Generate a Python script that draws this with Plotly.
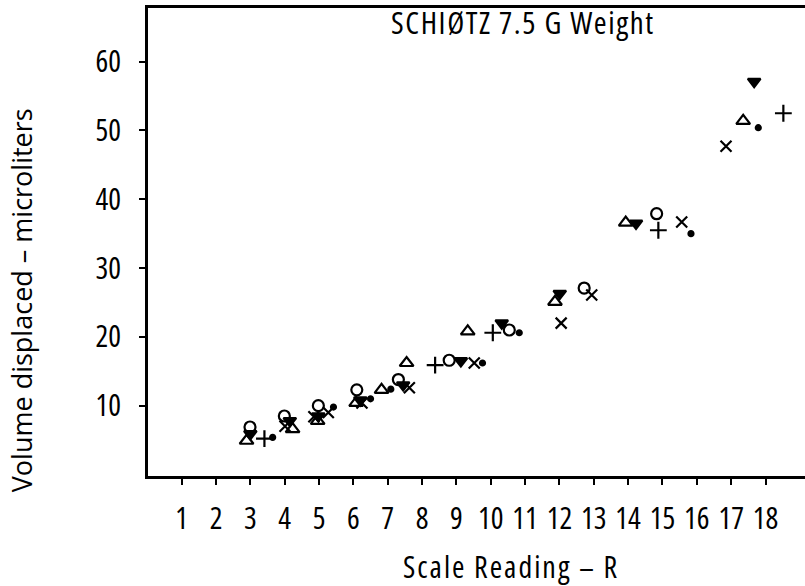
import plotly.graph_objects as go

# Scale reading (R) and volume displaced (microliters) for each marker type
tri_up_x = [2.89, 4.23, 4.96, 6.08, 6.82, 7.55, 9.33, 11.87, 13.93, 17.35]
tri_up_y = [4.9, 6.6, 7.8, 10.4, 12.3, 16.2, 20.8, 25.1, 36.6, 51.4]

tri_dn_x = [3.0, 4.15, 4.98, 6.2, 7.45, 9.13, 10.32, 12.01, 14.23, 17.67]
tri_dn_y = [5.9, 7.8, 8.5, 10.8, 13.0, 16.5, 22.0, 26.3, 36.5, 57.1]

plus_x = [3.41, 8.38, 10.06, 14.88, 18.52]
plus_y = [5.2, 15.9, 20.6, 35.5, 52.5]

cross_x = [4.01, 4.85, 5.27, 6.25, 7.63, 9.52, 12.05, 12.94, 15.56, 16.85]
cross_y = [7.0, 8.4, 9.0, 10.4, 12.6, 16.2, 22.0, 26.1, 36.7, 47.7]

circ_x = [2.99, 3.99, 4.98, 6.10, 7.31, 8.79, 10.54, 12.72, 14.83]
circ_y = [6.9, 8.5, 10.0, 12.3, 13.8, 16.6, 21.0, 27.1, 37.9]

dot_x = [3.65, 5.42, 6.5, 7.09, 9.76, 10.83, 15.83, 17.79]
dot_y = [5.4, 9.8, 11.0, 12.4, 16.2, 20.6, 35.0, 50.4]

x_ticks = list(range(1, 19))
y_ticks = [10, 20, 30, 40, 50, 60]


def cond(s, spacing=0):
    return f"<span style='font-stretch:75%;letter-spacing:{spacing}px'>{s}</span>"


fig = go.Figure()
series = [
    (tri_up_x, tri_up_y, "triangle-up-open", 12),
    (tri_dn_x, tri_dn_y, "triangle-down", 11),
    (plus_x, plus_y, "cross-thin-open", 12),
    (cross_x, cross_y, "x-thin-open", 11),
    (circ_x, circ_y, "circle-open", 11),
    (dot_x, dot_y, "circle", 5),
]
for xs, ys, sym, sz in series:
    fig.add_trace(go.Scatter(
        x=xs, y=ys, mode="markers",
        marker=dict(symbol=sym, size=sz, color="black",
                    line=dict(color="black", width=2.2)),
        showlegend=False, hoverinfo="skip"))

tick_font = dict(family="Open Sans, sans-serif", size=30, color="black")

fig.update_layout(
    width=805, height=586,
    margin=dict(l=148, r=0, t=8, b=110),
    paper_bgcolor="white", plot_bgcolor="white",
    xaxis=dict(range=[0.02, 19.15], tickvals=x_ticks, ticktext=[cond(v) for v in x_ticks],
               showgrid=False, zeroline=False, showline=True, linecolor="black",
               linewidth=3, mirror=True, ticks="outside", ticklen=6, tickwidth=2,
               tickcolor="black", tickfont=tick_font, ticklabelstandoff=8),
    yaxis=dict(range=[-0.22, 67.8], tickvals=y_ticks, ticktext=[cond(v) for v in y_ticks],
               showgrid=False, zeroline=False, showline=True, linecolor="black",
               linewidth=3, ticks="outside", ticklen=6, tickwidth=2,
               tickcolor="black", tickfont=tick_font, ticklabelstandoff=12),
    annotations=[
        dict(text=cond("SCHIØTZ 7.5 G Weight", 1.6), xref="paper", yref="paper",
             x=0.571, y=0.970, xanchor="center", yanchor="middle", showarrow=False,
             font=dict(family="Open Sans, sans-serif", size=31, color="black")),
        dict(text=cond("Scale Reading – R", 2), xref="paper", yref="paper",
             x=0.5525, y=-0.194, xanchor="center", yanchor="middle", showarrow=False,
             font=dict(family="Open Sans, sans-serif", size=30, color="black")),
        dict(text="Volume displaced – microliters", xref="paper", yref="paper",
             x=-0.193, y=0.376, xanchor="center", yanchor="middle", textangle=-90,
             showarrow=False,
             font=dict(family="Open Sans, sans-serif", size=27, color="black")),
    ],
)

fig.write_html("out.html")
